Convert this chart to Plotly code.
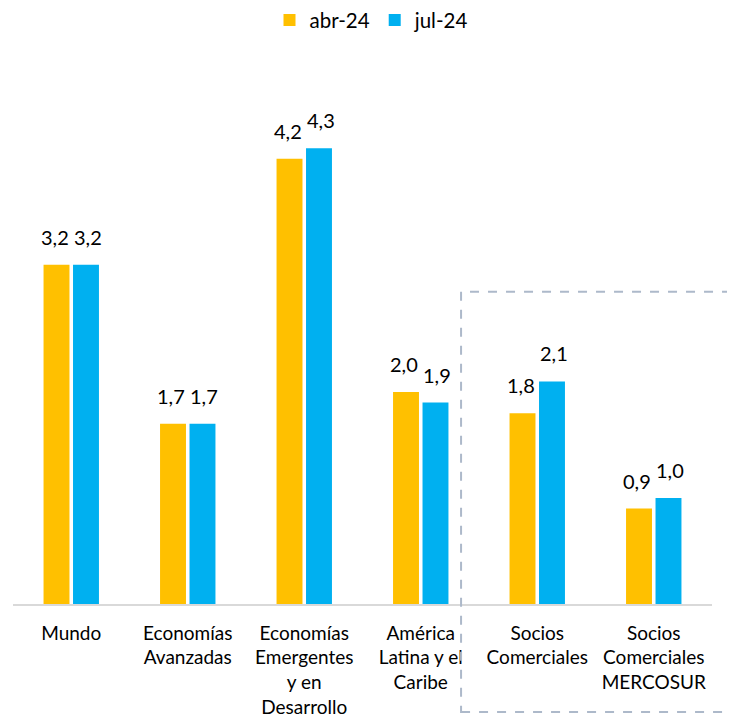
import plotly.graph_objects as go

categories = ["Mundo", "Economías<br>Avanzadas", "Economías<br>Emergentes<br>y en<br>Desarrollo",
              "América<br>Latina y el<br>Caribe", "Socios<br>Comerciales", "Socios<br>Comerciales<br>MERCOSUR"]
abr24 = [3.2, 1.7, 4.2, 2.0, 1.8, 0.9]
jul24 = [3.2, 1.7, 4.3, 1.9, 2.1, 1.0]
series_names = ["abr-24", "jul-24"]
colors = ["#FFC000", "#00B0F0"]
label_shift = [-16.5, 16.5]

fig = go.Figure()
for name, vals, col in zip(series_names, [abr24, jul24], colors):
    fig.add_trace(go.Bar(
        x=categories, y=vals, name=name, marker_color=col, marker_line_width=0,
    ))

for vals, dx in zip([abr24, jul24], label_shift):
    for cat, v in zip(categories, vals):
        fig.add_annotation(x=cat, y=v, xref="x", yref="y", text=f"{v:.1f}".replace(".", ","),
                           showarrow=False, xshift=dx, yshift=14, yanchor="bottom",
                           font=dict(size=20, color="#000000", family="Lato"))

fig.update_layout(
    width=727, height=711,
    margin=dict(l=5, r=23, t=66, b=115),
    paper_bgcolor="white", plot_bgcolor="white",
    barmode="group", bargap=0.494, bargroupgap=0.12,
    font=dict(family="Lato", size=19, color="#000000"),
    legend=dict(orientation="h", xref="container", yref="container", x=0.5, xanchor="center",
                y=0.983, yanchor="middle", font=dict(size=20.5), traceorder="normal"),
    showlegend=True,
)
fig.update_xaxes(showline=True, linecolor="#D9D9D9", linewidth=1.5, ticks="",
                 tickfont=dict(size=19), ticklabelstandoff=11, showgrid=False, automargin=False)
fig.update_yaxes(range=[0, 5], visible=False, showgrid=False, automargin=False)

fig.add_shape(type="rect", xref="paper", yref="paper",
              x0=0.641, x1=1.1, y0=-0.204, y1=0.589,
              line=dict(color="#ADB9CA", width=2, dash="dash"), fillcolor="rgba(0,0,0,0)")

fig.write_html("out.html")
